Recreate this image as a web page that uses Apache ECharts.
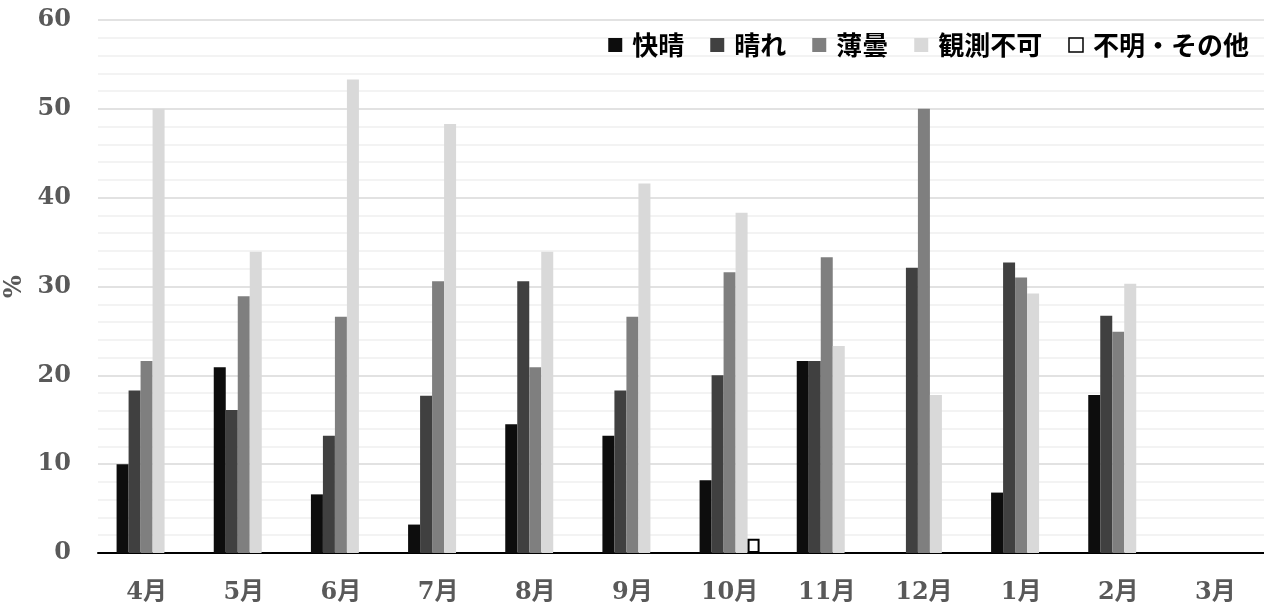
<!DOCTYPE html>
<html><head><meta charset="utf-8">
<script src="https://cdn.jsdelivr.net/npm/echarts@6/dist/echarts.min.js"></script>
<style>html,body{margin:0;padding:0;background:#fff}#c{width:1264px;height:613px}</style>
</head><body><div id="c"></div>
<script>
const categories = ['4月','5月','6月','7月','8月','9月','10月','11月','12月','1月','2月','3月'];
const seriesNames = ['快晴','晴れ','薄曇','観測不可','不明・その他'];
const kaisei   = [10.0, 20.9, 6.6, 3.2, 14.5, 13.2, 8.2, 21.6, 0, 6.8, 17.8, 0];
const hare     = [18.3, 16.1, 13.2, 17.7, 30.6, 18.3, 20.0, 21.6, 32.1, 32.7, 26.7, 0];
const usugumori= [21.6, 28.9, 26.6, 30.6, 20.9, 26.6, 31.6, 33.3, 50.0, 31.0, 24.9, 0];
const fuka     = [50.0, 33.9, 53.3, 48.3, 33.9, 41.6, 38.3, 23.3, 17.8, 29.2, 30.3, 0];
const fumei    = [0, 0, 0, 0, 0, 0, 1.6, 0, 0, 0, 0, 0];
const yTicks = [0,10,20,30,40,50,60];

const colors = ['#0d0d0d','#404040','#7f7f7f','#d9d9d9','#ffffff'];
const dataArr = [kaisei, hare, usugumori, fuka, fumei];
const tickFont = {fontFamily:'DejaVu Serif, Noto Sans CJK JP', fontSize:24, color:'#595959', fontWeight:'bold'};

const chart = echarts.init(document.getElementById('c'));
chart.setOption({
  animation:false,
  grid:{left:98, right:0, top:20, bottom:60, outerBoundsMode:'none', containLabel:false},
  legend:{
    top:27, right:10, itemWidth:14, itemHeight:14, itemGap:26,
    textStyle:{fontFamily:'Noto Sans CJK JP', fontSize:26, color:'#000', fontWeight:'bold', padding:[0,0,0,5]},
    data:seriesNames.map((n,i)=>({name:n, icon:'rect', itemStyle: i===4?{color:'#fff',borderColor:'#000',borderWidth:1.5}:{color:colors[i]}}))
  },
  xAxis:{
    type:'category', data:categories,
    axisLine:{lineStyle:{color:'#000', width:2}},
    axisTick:{show:false},
    axisLabel:Object.assign({margin:28}, tickFont)
  },
  yAxis:{
    type:'value', min:0, max:60, interval:10,
    name:'%', nameLocation:'middle', nameGap:62, nameRotate:90,
    nameTextStyle:Object.assign({}, tickFont),
    axisLabel:Object.assign({margin:27, formatter:v=>yTicks.includes(v)?String(v):''}, tickFont),
    axisLine:{show:false}, axisTick:{show:false},
    splitLine:{lineStyle:{color:'#d9d9d9', width:1.5}},
    minorTick:{show:false, splitNumber:5},
    minorSplitLine:{show:true, lineStyle:{color:'#f0f0f0', width:1.5}}
  },
  series:dataArr.map((d,i)=>({
    name:seriesNames[i], type:'bar', data:d, barWidth:12, barGap:'0%',
    itemStyle: i===4 ? {color:'#fff', borderColor:'#000', borderWidth:2} : {color:colors[i]}
  }))
});
</script></body></html>
